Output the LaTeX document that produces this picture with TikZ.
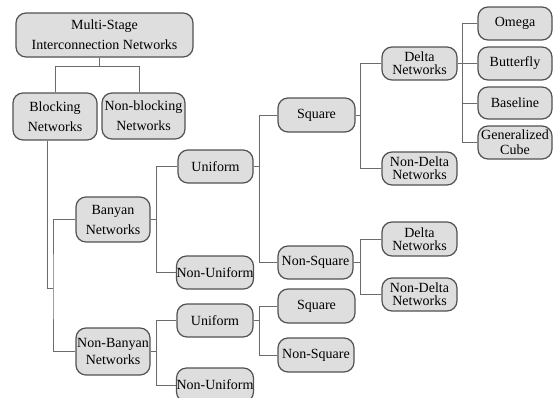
\documentclass[tikz,border=0pt]{standalone}
\usepackage{fontspec}
\setmainfont{Liberation Serif}
\begin{document}
\begin{tikzpicture}[x=1pt,y=-1pt,
  box/.style={draw=black!68, fill=black!13, line width=1.2pt, rounded corners=10pt,
    inner sep=0pt, align=center, anchor=center},
  f20/.style={font=\fontsize{14}{20}\selectfont},
  f17/.style={font=\fontsize{14}{17.5}\selectfont},
  f15/.style={font=\fontsize{14}{15}\selectfont},
  f13/.style={font=\fontsize{14}{13}\selectfont},
  conn/.style={draw=black!58, line width=1pt}]
\useasboundingbox (0,0) rectangle (554,397);
\clip (0,0) rectangle (554,397);
% nodes
\node[box,f20,minimum width=177pt,minimum height=44pt] (msin) at (104.5,35) {Multi-Stage\\Interconnection Networks};
\node[box,f20,minimum width=84pt,minimum height=47pt] (blk) at (55,116.5) {Blocking\\Networks};
\node[box,f20,minimum width=83pt,minimum height=46pt] (nblk) at (143.5,116) {Non-blocking\\Networks};
\node[box,f20,minimum width=74pt,minimum height=45pt] (ban) at (113,219.5) {Banyan\\Networks};
\node[box,f17,minimum width=74pt,minimum height=47pt] (nban) at (113,351.5) {Non-Banyan\\Networks};
\node[box,f20,minimum width=75pt,minimum height=33pt] (uni1) at (215.5,166.5) {Uniform};
\node[box,f20,minimum width=76pt,minimum height=33pt] (nuni1) at (215,272.5) {Non-Uniform};
\node[box,f20,minimum width=76pt,minimum height=33pt] (uni2) at (215,320.5) {Uniform};
\node[box,f20,minimum width=76pt,minimum height=34pt] (nuni2) at (215,385) {Non-Uniform};
\node[box,f20,minimum width=77pt,minimum height=34pt] (sq1) at (316.5,115) {Square};
\node[box,f20,minimum width=75pt,minimum height=33pt] (nsq1) at (315.5,262.5) {Non-Square};
\node[box,f20,minimum width=77pt,minimum height=34pt] (sq2) at (316.5,306) {Square};
\node[box,f20,minimum width=76pt,minimum height=34pt] (nsq2) at (316,355) {Non-Square};
\node[box,f13,minimum width=75pt,minimum height=33pt] (del1) at (419.5,63.5) {Delta\\Networks};
\node[box,f13,minimum width=75pt,minimum height=33pt] (ndel1) at (419.5,168.5) {Non-Delta\\Networks};
\node[box,f20,minimum width=74pt,minimum height=33pt] (omega) at (515,23.5) {Omega};
\node[box,f20,minimum width=74pt,minimum height=33pt] (bfly) at (515,63.5) {Butterfly};
\node[box,f20,minimum width=74pt,minimum height=32pt] (base) at (515,103) {Baseline};
\node[box,f15,minimum width=74pt,minimum height=33pt] (gcube) at (515,142.5) {Generalized\\Cube};
\node[box,f13,minimum width=75pt,minimum height=34pt] (del2) at (419.5,239) {Delta\\Networks};
\node[box,f13,minimum width=75pt,minimum height=33pt] (ndel2) at (419.5,294.5) {Non-Delta\\Networks};
% connectors
\draw[conn] ([xshift=-5.5pt]msin.south) -- ++(0,9) coordinate (j0);
\draw[conn] (blk.north) |- (j0) -| ([xshift=-4.5pt]nblk.north);
\coordinate (jb) at (53,288);
\draw[conn] ([xshift=-8pt]blk.south) |- (jb);
\draw[conn] (ban.west) -| (jb) |- (nban.west);
% Banyan
\draw[conn] (ban.east) -- ++(6,0) coordinate (j1);
\draw[conn] (uni1.west) -| (j1) |- (nuni1.west);
% Non-Banyan
\draw[conn] (nban.east) -- ++(6,0) coordinate (j2);
\draw[conn] (uni2.west) -| (j2) |- (nuni2.west);
% Uniform 1
\draw[conn] (uni1.east) -- ++(6,0) coordinate (j3);
\draw[conn] (sq1.west) -| (j3) |- (nsq1.west);
% Uniform 2
\draw[conn] (uni2.east) -- ++(6,0) coordinate (j4);
\draw[conn] (sq2.west) -| (j4) |- (nsq2.west);
% Square 1
\draw[conn] (sq1.east) -- ++(5,0) coordinate (j5);
\draw[conn] (del1.west) -| (j5) |- (ndel1.west);
% Delta 1
\draw[conn] (del1.east) -- ++(5,0) coordinate (j6);
\draw[conn] (omega.west) -| (j6) |- (gcube.west);
\draw[conn] (bfly.west) -- (bfly.west -| j6);
\draw[conn] (base.west) -- (base.west -| j6);
% Non-Square 1
\draw[conn] (nsq1.east) -- ++(7,0) coordinate (j7);
\draw[conn] (del2.west) -| (j7) |- (ndel2.west);
\end{tikzpicture}
\end{document}
